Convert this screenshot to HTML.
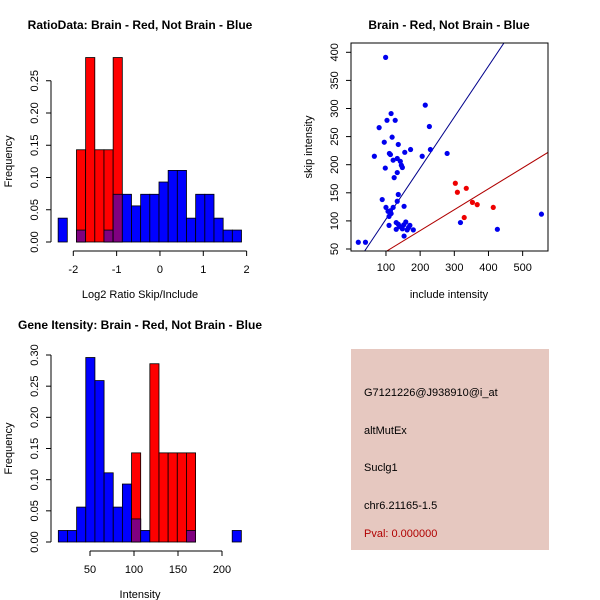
<!DOCTYPE html>
<html><head><meta charset="utf-8"><style>
body{margin:0;background:#fff}
svg{font-family:"Liberation Sans",Arial,sans-serif;display:block}
</style></head><body>
<svg id="c" width="600" height="600" xmlns="http://www.w3.org/2000/svg">
<text x="140" y="29" font-size="12" font-weight="bold" text-anchor="middle">RatioData: Brain - Red, Not Brain - Blue</text>
<text x="449" y="29" font-size="12" font-weight="bold" text-anchor="middle">Brain - Red, Not Brain - Blue</text>
<text x="140" y="329" font-size="12" font-weight="bold" text-anchor="middle">Gene Itensity: Brain - Red, Not Brain - Blue</text>
<g id="g1"></g>
<g id="g2"></g>
<g id="g3"></g>
<g>
<rect x="351" y="349" width="198" height="201" fill="#e6c8c0"/>
<text x="364" y="396" font-size="11">G7121226@J938910@i_at</text>
<text x="364" y="434" font-size="11">altMutEx</text>
<text x="364" y="471" font-size="11">Suclg1</text>
<text x="364" y="509" font-size="11">chr6.21165-1.5</text>
<text x="364" y="537" font-size="11" fill="#b00000">Pval: 0.000000</text>
</g>
</svg>
<script>
// Ratio histogram data
const ratioStart=-2.35, ratioWidth=0.2116;
const ratioBlue=[0.037,0,0.0185,0,0,0.0185,0.074,0.074,0.056,0.074,0.074,0.093,0.111,0.111,0.037,0.074,0.074,0.037,0.0185,0.0185];
const ratioRed=[0,0,0.143,0.286,0.143,0.143,0.286,0,0,0,0,0,0,0,0,0,0,0,0,0];
const ratioXTicks=[-2,-1,0,1,2];
const ratioYTicks=[0,0.05,0.10,0.15,0.20,0.25];
// Intensity histogram data
const intStart=14, intWidth=10.4;
const intBlue=[0.0185,0.0185,0.056,0.296,0.259,0.111,0.056,0.093,0.037,0.0185,0,0,0,0,0.0185,0,0,0,0,0.0185];
const intRed=[0,0,0,0,0,0,0,0,0.143,0,0.286,0.143,0.143,0.143,0.143,0,0,0,0,0];
const intXTicks=[50,100,150,200];
const intYTicks=[0,0.05,0.10,0.15,0.20,0.25,0.30];
// Scatter data
const blueX=[19,40,99,215,115,103,127,80,227,118,95,136,110,113,66,155,172,230,206,279,133,142,121,145,148,98,133,124,89,136,133,153,100,121,106,113,115,109,109,130,136,130,140,146,152,148,158,162,166,170,180,153,318,426,555];
const blueY=[62,62,391,306,291,279,279,266,268,249,240,236,220,218,215,222,227,227,215,220,211,206,208,199,195,194,186,177,138,147,135,126,124,124,117,118,113,108,92,97,94,85,90,88,93,86,98,84,88,92,84,73,97,85,112];
const redX=[303,309,335,353,367,414,329];
const redY=[167,151,158,133,129,124,106];
const blueLine=[12.3,0.908];
const redLine=[8.3,0.372];
const scX=[100,200,300,400,500];
const scY=[50,100,150,200,250,300,350,400];
const NS='http://www.w3.org/2000/svg';
function mk(p,t,a){const e=document.createElementNS(NS,t);for(const k in a)e.setAttribute(k,a[k]);p.appendChild(e);return e;}
function hist(g,start,w,blue,red,xs,ys,xt,yt,xlab,xtLabels){
  for(let i=0;i<blue.length;i++){
    const x0=xs(start+i*w),x1=xs(start+(i+1)*w);
    const b=blue[i],r=red[i];
    if(b>0){const e=mk(g,'rect',{x:x0,y:ys(b),width:x1-x0,height:ys(0)-ys(b),fill:'#0000ff',stroke:'#000','stroke-width':0.8});
      
      }
    if(r>0){const e=mk(g,'rect',{x:x0,y:ys(r),width:x1-x0,height:ys(0)-ys(r),fill:'#ff0000',stroke:'#000','stroke-width':0.8});
      
      }
    if(b>0&&r>0){const m=Math.min(b,r);const e=mk(g,'rect',{x:x0,y:ys(m),width:x1-x0,height:ys(0)-ys(m),fill:'#800080',stroke:'#000','stroke-width':0.8});
      
      }
  }
  const ay=ys(0)+9;
  mk(g,'line',{x1:xs(xt[0]),x2:xs(xt[xt.length-1]),y1:ay,y2:ay,stroke:'#000'});
  xt.forEach(v=>{mk(g,'line',{x1:xs(v),x2:xs(v),y1:ay,y2:ay+5,stroke:'#000'});
    const t=mk(g,'text',{x:xs(v),y:ay+22,'font-size':11,'text-anchor':'middle'});t.textContent=xtLabels(v);
    
    });
  const ax=51;
  mk(g,'line',{x1:ax,x2:ax,y1:ys(yt[0]),y2:ys(yt[yt.length-1]),stroke:'#000'});
  yt.forEach(v=>{mk(g,'line',{x1:ax-5,x2:ax,y1:ys(v),y2:ys(v),stroke:'#000'});
    const t=mk(g,'text',{x:38,y:ys(v),'font-size':11,'text-anchor':'middle',transform:`rotate(-90 38 ${ys(v)})`});t.textContent=v.toFixed(2);
    
    });
  const xl=mk(g,'text',{x:xlab[1],y:xlab[2],'font-size':11,'text-anchor':'middle'});xl.textContent=xlab[0];
  
  
  const yy=(ys(yt[0])+ys(yt[yt.length-1]))/2;
  const yl=mk(g,'text',{x:12,y:yy,'font-size':11,'text-anchor':'middle',transform:`rotate(-90 12 ${yy})`});yl.textContent='Frequency';
  
  
}
const g1=document.getElementById('g1');
hist(g1,ratioStart,ratioWidth,ratioBlue,ratioRed,v=>73.3+(v+2)*43.33,v=>242-v*645,ratioXTicks,ratioYTicks,['Log2 Ratio Skip/Include',140,298],v=>String(v));
const g3=document.getElementById('g3');
hist(g3,intStart,intWidth,intBlue,intRed,v=>90+(v-50)*0.88,v=>542-v*623.3,intXTicks,intYTicks,['Intensity',140,598],v=>String(v));
// scatter
const g2=document.getElementById('g2');
const sx=v=>351.8+v*0.3417, sy=v=>249-(v-50)*0.562;
mk(g2,'defs',{}).innerHTML='<clipPath id="cp"><rect x="351" y="43" width="197" height="208"/></clipPath>';
const lg=mk(g2,'g',{'clip-path':'url(#cp)'});
const bl=mk(lg,'line',{x1:sx(0),y1:sy(blueLine[0]),x2:sx(600),y2:sy(blueLine[0]+blueLine[1]*600),stroke:'#00008b'});


const rl=mk(lg,'line',{x1:sx(0),y1:sy(redLine[0]),x2:sx(600),y2:sy(redLine[0]+redLine[1]*600),stroke:'#b00000'});


blueX.forEach((x,i)=>{const c=mk(g2,'circle',{cx:sx(x),cy:sy(blueY[i]),r:2.6,fill:'#0000ee'});
  
  });
redX.forEach((x,i)=>{const c=mk(g2,'circle',{cx:sx(x),cy:sy(redY[i]),r:2.6,fill:'#ee0000'});
  
  });
const fr=mk(g2,'rect',{x:351,y:43,width:197,height:208,fill:'none',stroke:'#000'});


scX.forEach(v=>{mk(g2,'line',{x1:sx(v),x2:sx(v),y1:251,y2:256,stroke:'#000'});
  const t=mk(g2,'text',{x:sx(v),y:271,'font-size':11,'text-anchor':'middle'});t.textContent=v;
  
  });
scY.forEach(v=>{mk(g2,'line',{x1:346,x2:351,y1:sy(v),y2:sy(v),stroke:'#000'});
  const t=mk(g2,'text',{x:338,y:sy(v),'font-size':11,'text-anchor':'middle',transform:`rotate(-90 338 ${sy(v)})`});t.textContent=v;
  
  });
const sxl=mk(g2,'text',{x:449,y:298,'font-size':11,'text-anchor':'middle'});sxl.textContent='include intensity';


const syl=mk(g2,'text',{x:312,y:147,'font-size':11,'text-anchor':'middle',transform:'rotate(-90 312 147)'});syl.textContent='skip intensity';


</script>
</body></html>
